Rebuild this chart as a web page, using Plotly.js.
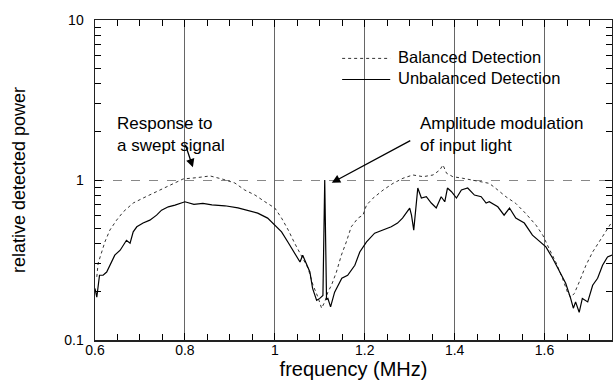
<!DOCTYPE html>
<html>
<head>
<meta charset="utf-8">
<script src="https://cdn.plot.ly/plotly-3.0.1.min.js"></script>
<style>html,body{margin:0;padding:0;background:#fff}#chart{width:613px;height:381px}</style>
</head>
<body>
<div id="chart"></div>
<script>
// Unbalanced detection (solid)
var unbalFreq = [0.600,0.604,0.610,0.618,0.626,0.633,0.644,0.656,0.663,0.670,0.678,0.685,0.693,0.707,0.722,0.737,0.748,0.763,0.778,0.793,0.800,
  0.820,0.840,0.860,0.889,0.918,0.940,0.962,0.984,1.000,1.015,1.029,1.044,1.056,1.062,1.071,1.078,1.084,1.093,1.100,1.107,1.111,1.115,1.118,1.124,
  1.133,1.149,1.162,1.178,1.189,1.204,1.222,1.240,1.259,1.273,1.284,1.300,1.304,1.309,1.318,1.326,1.337,1.348,1.359,1.370,1.378,1.384,1.393,
  1.404,1.415,1.429,1.444,1.459,1.470,1.477,1.496,1.510,1.522,1.536,1.555,1.573,1.591,1.603,1.618,1.633,1.647,1.658,1.664,1.669,1.677,1.684,
  1.696,1.707,1.718,1.729,1.740,1.750];
var unbalPower = [0.210,0.185,0.254,0.254,0.266,0.293,0.339,0.364,0.391,0.420,0.403,0.474,0.510,0.538,0.561,0.603,0.648,0.680,0.697,0.725,0.731,
  0.705,0.715,0.700,0.690,0.670,0.648,0.621,0.578,0.522,0.474,0.410,0.348,0.307,0.339,0.293,0.266,0.210,0.177,0.182,0.190,1.000,0.180,0.182,0.161,
  0.199,0.243,0.254,0.293,0.355,0.410,0.465,0.486,0.510,0.538,0.578,0.668,0.603,0.486,0.891,0.771,0.786,0.718,0.668,0.786,0.731,0.891,0.845,
  0.771,0.866,0.891,0.805,0.786,0.718,0.731,0.680,0.603,0.668,0.578,0.538,0.452,0.410,0.382,0.324,0.266,0.226,0.182,0.158,0.173,0.149,0.182,
  0.173,0.220,0.243,0.293,0.330,0.339];
// Balanced detection (dotted)
var balFreq = [0.604,0.607,0.615,0.622,0.633,0.648,0.663,0.685,0.707,0.730,0.752,0.774,0.796,0.826,0.856,0.885,0.911,0.933,0.956,0.978,1.000,
  1.015,1.030,1.044,1.059,1.074,1.085,1.096,1.104,1.111,1.118,1.126,1.137,1.148,1.159,1.170,1.185,1.196,1.204,1.218,1.241,1.263,1.285,1.307,
  1.330,1.352,1.367,1.374,1.382,1.396,1.418,1.441,1.463,1.477,1.496,1.514,1.536,1.558,1.581,1.596,1.610,1.625,1.640,1.651,1.658,1.666,1.677,
  1.692,1.707,1.721,1.736,1.750];
var balPower = [0.248,0.302,0.355,0.410,0.486,0.561,0.633,0.718,0.771,0.829,0.891,0.958,1.015,1.034,1.060,1.010,0.958,0.866,0.805,0.731,0.668,
  0.578,0.486,0.403,0.339,0.281,0.220,0.185,0.158,0.173,0.199,0.220,0.266,0.339,0.410,0.510,0.578,0.603,0.697,0.768,0.866,0.953,1.025,1.075,
  1.049,1.075,1.155,1.242,1.102,1.049,1.025,1.000,0.976,0.953,0.866,0.786,0.714,0.618,0.522,0.452,0.373,0.307,0.242,0.199,0.185,0.195,0.230,
  0.293,0.355,0.410,0.474,0.548];

var xTickVals = [0.6,0.8,1,1.2,1.4,1.6];
var xTickText = ["0.6","0.8","1","1.2","1.4","1.6"];
var yTickVals = [0.1,1,10];
var yTickText = ["0.1","1","10"];
var yMinorVals = [0.2,0.3,0.4,0.5,0.6,0.7,0.8,0.9,2,3,4,5,6,7,8,9];
var legendLabels = ["Balanced Detection", "Unbalanced Detection"];

var FONT = "Liberation Sans, Arial, Helvetica, sans-serif";

var traces = [
  {x: balFreq, y: balPower, mode: "lines", name: legendLabels[0],
   line: {color: "#333", width: 1, dash: "dot"}},
  {x: unbalFreq, y: unbalPower, mode: "lines", name: legendLabels[1],
   line: {color: "#000", width: 1.2}}
];

function txt(x, y, s, size) {
  return {xref: "paper", yref: "paper", x: x, y: y, xanchor: "left", yanchor: "middle", align: "left",
          text: s, showarrow: false, font: {size: size}, borderpad: 0};
}

var layout = {
  width: 613, height: 381,
  margin: {l: 95, r: 1, t: 20, b: 41},
  paper_bgcolor: "#fff", plot_bgcolor: "#fff",
  showlegend: false,
  font: {family: FONT, size: 14, color: "#000"},
  xaxis: {
    range: [0.6, 1.75], tickvals: xTickVals, ticktext: xTickText,
    ticks: "inside", ticklen: 7, tickcolor: "#000", mirror: "ticks",
    showline: true, linecolor: "#222", linewidth: 1.5,
    showgrid: true, gridcolor: "#666", gridwidth: 1,
    zeroline: false,
    minor: {dtick: 0.05, ticks: "inside", ticklen: 6, tickcolor: "#000", showgrid: false},
    tickfont: {size: 14}, ticklabelstandoff: -3,
    title: {text: "frequency (MHz)", font: {size: 20}, standoff: 2}
  },
  yaxis: {
    type: "log", range: [-1, 1], tickvals: yTickVals, ticktext: yTickText,
    ticks: "inside", ticklen: 7, tickcolor: "#000", mirror: "ticks",
    showline: true, linecolor: "#222", linewidth: 1.5,
    showgrid: true, gridcolor: "#888", gridwidth: 1, griddash: "dash",
    zeroline: false,
    minor: {tickvals: yMinorVals, ticks: "inside", ticklen: 6, tickcolor: "#000", showgrid: false},
    tickfont: {size: 14}, ticklabelstandoff: 7,
    title: {text: "relative detected power", font: {size: 18}, standoff: 34}
  },
  shapes: [
    {type: "line", xref: "paper", yref: "paper", x0: 0.478, x1: 0.571, y0: 0.880, y1: 0.880,
     line: {color: "#333", width: 1, dash: "dot"}},
    {type: "line", xref: "paper", yref: "paper", x0: 0.478, x1: 0.571, y0: 0.814, y1: 0.814,
     line: {color: "#000", width: 1.2}}
  ],
  annotations: [
    txt(0.584, 0.851, legendLabels[0] + "<br>" + legendLabels[1], 16.5),
    txt(0.040, 0.642, "Response to<br>a swept signal", 17),
    txt(0.626, 0.642, "Amplitude modulation<br>of input light", 17),
    {x: 0.8178, y: Math.log10(1.2), xref: "x", yref: "y", text: "", showarrow: true,
     ax: -8, ay: -24, arrowhead: 2, arrowsize: 1.3, arrowwidth: 1.3, arrowcolor: "#000"},
    {x: 1.1267, y: Math.log10(0.96), xref: "x", yref: "y", text: "", showarrow: true,
     ax: 80, ay: -43, arrowhead: 2, arrowsize: 1.3, arrowwidth: 1.3, arrowcolor: "#000"}
  ]
};

Plotly.newPlot("chart", traces, layout, {staticPlot: true, displayModeBar: false});
</script>
</body>
</html>
